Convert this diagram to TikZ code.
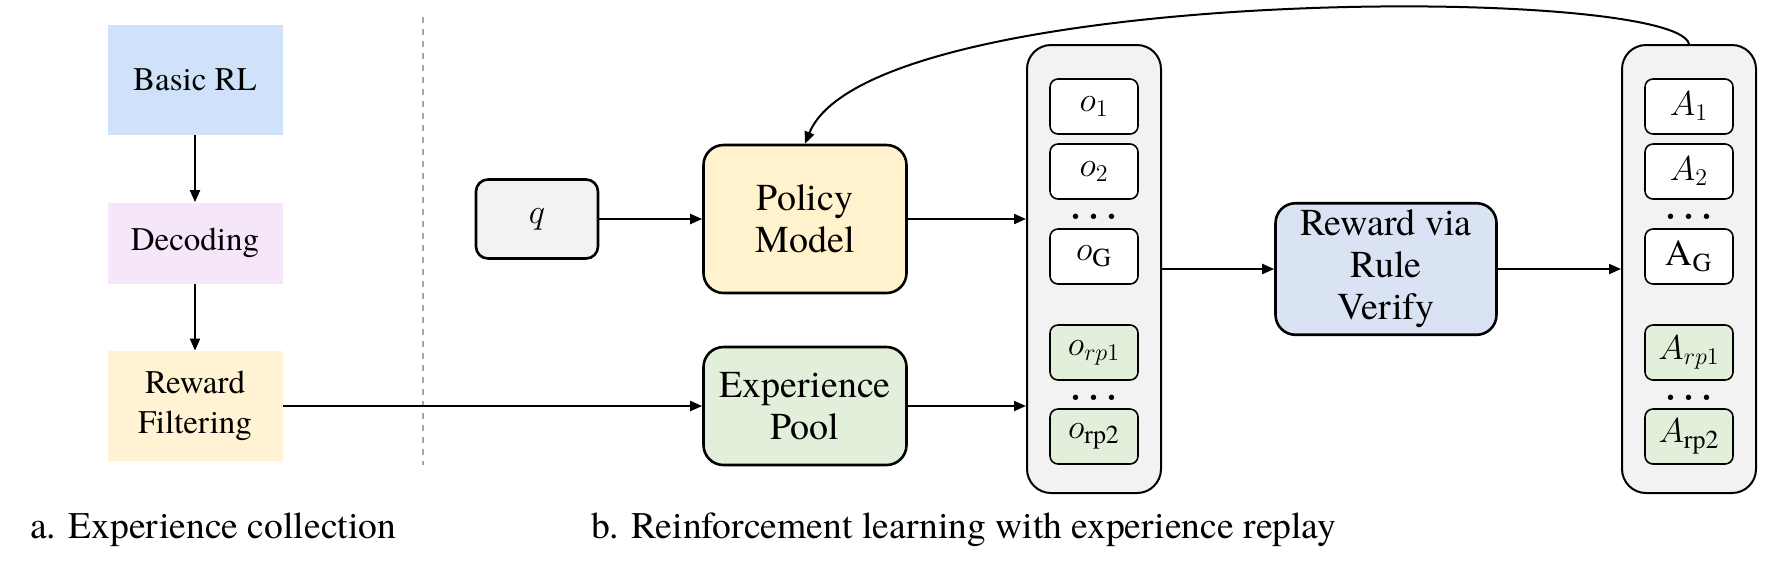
\documentclass[tikz,border=0pt]{standalone}
\usepackage{fontspec}
\setmainfont{texgyretermes-regular.otf}[BoldFont=texgyretermes-bold.otf,ItalicFont=texgyretermes-italic.otf]
\usetikzlibrary{arrows.meta}
\usetikzlibrary{positioning}
\definecolor{rlblue}{HTML}{CFE2FA}
\definecolor{decpink}{HTML}{F6E6FA}
\definecolor{filtyellow}{HTML}{FFF3D4}
\definecolor{polyellow}{HTML}{FFF2CC}
\definecolor{poolgreen}{HTML}{E2EFDA}
\definecolor{verblue}{HTML}{DAE3F3}
\definecolor{boxgray}{HTML}{F2F2F2}
\tikzset{
	align=center,
	stage/.style={
		rectangle,
		minimum width=87.5pt,
		inner sep=0pt,
		font=\fontsize{16.5}{20}\selectfont,
	},
	blk/.style={
		draw,
		rectangle,
		rounded corners=10pt,
		line width=1.3pt,
		font=\fontsize{19}{21}\selectfont,
	},
	cont/.style={
		draw,
		fill=boxgray,
		rounded corners=12pt,
		line width=1pt,
		minimum width=67pt,
		minimum height=224pt,
	},
	item/.style={
		draw,
		fill=white,
		rounded corners=4pt,
		line width=0.8pt,
		minimum width=44pt,
		minimum height=27.5pt,
		font=\fontsize{18.5}{20}\selectfont,
	},
	rpitem/.style={item, fill=poolgreen},
	dots/.style={anchor=base, inner sep=0pt, font=\fontsize{18}{20}\selectfont\boldmath},
	arg/.style={
		line width=1pt,
		-{Triangle[length=6pt,width=5pt]}
	},
	caption/.style={anchor=base west, font=\fontsize{18.8}{22}\selectfont},
}

\begin{document}
\begin{tikzpicture}[x=0.5pt,y=-0.5pt]
		\useasboundingbox (0,0) rectangle (1770,575);

		% a. experience collection
		\node[stage, fill=rlblue, minimum height=55pt] (basic) at (195,80) {Basic RL};
		\node[stage, fill=decpink, minimum height=40.5pt] (dec) at (195,243) {Decoding};
		\node[stage, fill=filtyellow, minimum height=55pt] (filt) at (195,406) {Reward\\Filtering};

		\draw[dashed, gray!70, line width=0.8pt] (423,17) -- (423,465);

		% b. reinforcement learning
		\node[blk, fill=boxgray, rounded corners=6pt, minimum width=61pt, minimum height=39.5pt] (q) at (537,219) {$q$};
		\node[blk, fill=polyellow, minimum width=101.5pt, minimum height=74pt] (policy) at (805,219) {Policy\\Model};
		\node[blk, fill=poolgreen, minimum width=101.5pt, minimum height=59pt] (pool) at (805,406) {Experience\\Pool};

		\node[cont] (outs) at (1094,269) {};
		\node[item] (o1) at (1094,106.5) {$o_1$};
		\node[item] (o2) at (1094,171.5) {$o_2$};
		\node[dots] at (1094,225) {$\cdots$};
		\node[item] (oG) at (1094,256.5) {$o_{\mathrm{G}}$};
		\node[rpitem] (orp1) at (1094,352.5) {$o_{rp1}$};
		\node[dots] at (1094,406) {$\cdots$};
		\node[rpitem] (orp2) at (1094,436.5) {$o_{\mathrm{rp2}}$};

		\node[blk, fill=verblue, minimum width=110.5pt, minimum height=65pt] (verify) at (1386,269) {Reward via\\Rule\\Verify};

		\node[cont] (advs) at (1689,269) {};
		\node[item] (A1) at (1689,106.5) {$A_1$};
		\node[item] (A2) at (1689,171.5) {$A_2$};
		\node[dots] at (1689,225) {$\cdots$};
		\node[item] (AG) at (1689,256.5) {$\mathrm{A}_{\mathrm{G}}$};
		\node[rpitem] (Arp1) at (1689,352.5) {$A_{rp1}$};
		\node[dots] at (1689,406) {$\cdots$};
		\node[rpitem] (Arp2) at (1689,436.5) {$A_{\mathrm{rp2}}$};

		\node[caption] (capa) at (23,538) {a. Experience collection};
		\node[caption] (capb) at (584,538) {b. Reinforcement learning with experience replay};

		\draw[arg] (basic) -- (dec);
		\draw[arg] (dec) -- (filt);
		\draw[arg] (filt) -- (pool);
		\draw[arg] (q) -- (policy);
		\draw[arg] (policy.east) -- (policy.east -| outs.west);
		\draw[arg] (pool.east) -- (pool.east -| outs.west);
		\draw[arg] (outs) -- (verify);
		\draw[arg] (verify) -- (advs);
		\draw[arg] (advs.north) .. controls +(-14,-60) and +(65,-160) .. (policy.north);

	\end{tikzpicture}
\end{document}
